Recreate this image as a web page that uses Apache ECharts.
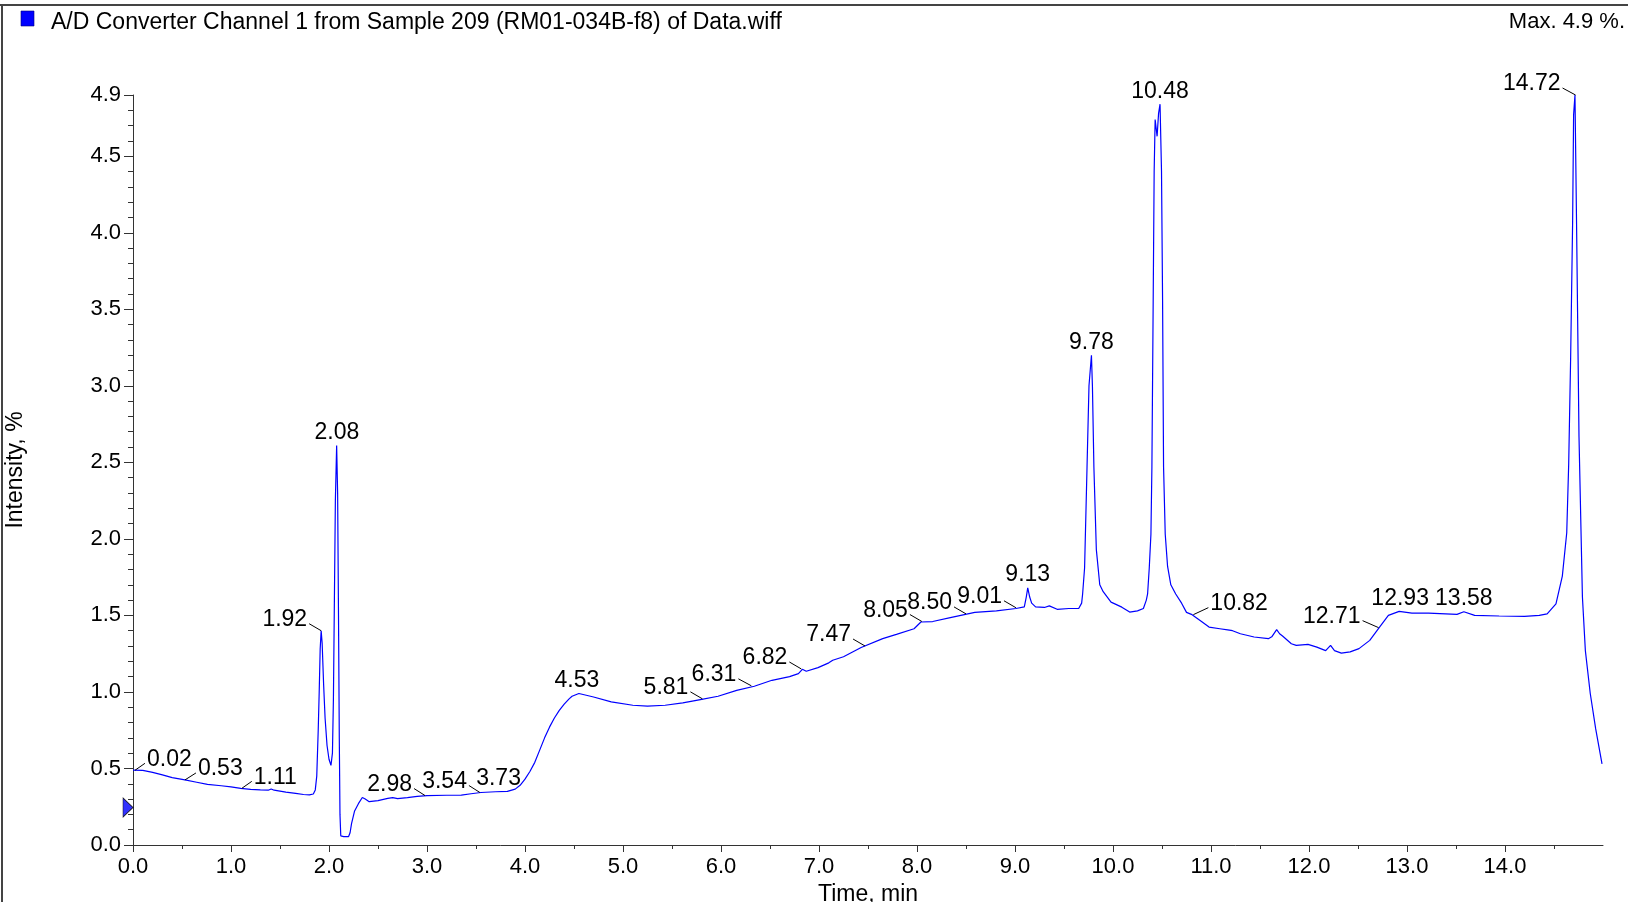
<!DOCTYPE html>
<html>
<head>
<meta charset="utf-8">
<script src="https://cdn.jsdelivr.net/npm/echarts@6/dist/echarts.min.js"></script>
<style>
html,body{margin:0;padding:0;background:#fff;}
#chart{width:1628px;height:902px;}
</style>
</head>
<body>
<div id="chart"></div>
<script>
// ---- data ----
const seriesName = 'A/D Converter Channel 1 from Sample 209 (RM01-034B-f8) of Data.wiff';
const maxText = 'Max. 4.9 %.';
const times = [
  0.00,0.10,0.20,0.30,0.40,0.53,0.65,0.76,0.90,1.00,1.10,1.20,1.30,1.38,1.41,1.44,1.56,1.66,1.74,1.80,
  1.84,1.86,1.875,1.89,1.90,1.91,1.92,1.93,1.945,1.96,1.98,2.00,2.02,2.035,2.045,2.055,2.065,2.078,2.088,2.097,
  2.105,2.112,2.12,2.15,2.20,2.215,2.23,2.26,2.30,2.34,2.37,2.41,2.50,2.60,2.65,2.70,2.80,2.90,3.00,3.20,
  3.35,3.45,3.55,3.70,3.82,3.90,3.95,4.00,4.05,4.10,4.15,4.20,4.25,4.30,4.35,4.40,4.45,4.48,4.55,4.70,4.88,5.10,5.25,5.43,5.61,5.79,
  5.97,6.16,6.34,6.52,6.70,6.79,6.83,6.87,6.99,7.10,7.14,7.25,7.43,7.65,7.79,7.97,8.04,8.16,8.34,8.59,
  8.81,9.01,9.095,9.115,9.13,9.15,9.17,9.21,9.30,9.35,9.43,9.55,9.65,9.68,9.69,9.71,9.735,9.755,9.78,9.79,
  9.805,9.83,9.865,9.90,9.98,10.09,10.17,10.25,10.31,10.34,10.353,10.37,10.387,10.397,10.41,10.42,10.43,10.45,10.465,10.48,
  10.495,10.506,10.516,10.533,10.557,10.59,10.64,10.70,10.75,10.80,10.91,10.98,11.09,11.17,11.19,11.22,11.30,11.44,11.585,11.62,
  11.67,11.70,11.73,11.82,11.87,11.99,12.08,12.17,12.22,12.26,12.33,12.42,12.51,12.62,12.72,12.81,12.92,13.05,13.22,13.51,
  13.58,13.69,13.94,14.20,14.35,14.43,14.52,14.585,14.63,14.65,14.67,14.69,14.70,14.714,14.73,14.755,14.79,14.82,14.87,14.925,
  14.99
];
const intensity = [
  0.489,0.487,0.475,0.458,0.440,0.425,0.410,0.396,0.387,0.380,0.370,0.363,0.360,0.358,0.366,0.358,0.345,0.337,0.330,0.328,
  0.333,0.36,0.45,0.75,1.00,1.28,1.40,1.32,1.05,0.83,0.65,0.56,0.52,0.60,0.95,1.60,2.25,2.61,2.30,1.50,
  0.70,0.20,0.06,0.055,0.055,0.08,0.14,0.22,0.27,0.31,0.30,0.283,0.29,0.305,0.31,0.303,0.31,0.318,0.323,0.325,
  0.326,0.335,0.343,0.348,0.350,0.365,0.39,0.43,0.48,0.54,0.62,0.70,0.77,0.83,0.88,0.92,0.955,0.972,0.99,0.967,0.935,0.913,0.907,0.913,0.928,0.95,
  0.972,1.01,1.037,1.076,1.10,1.12,1.148,1.135,1.159,1.19,1.207,1.23,1.29,1.348,1.376,1.413,1.457,1.46,1.485,1.52,
  1.53,1.545,1.556,1.62,1.68,1.62,1.58,1.556,1.552,1.562,1.54,1.545,1.545,1.58,1.64,1.81,2.47,3.00,3.20,3.00,
  2.47,1.93,1.70,1.655,1.587,1.554,1.522,1.530,1.545,1.60,1.64,1.81,2.03,2.47,3.55,4.40,4.74,4.63,4.78,4.84,
  4.40,3.55,2.47,2.03,1.82,1.70,1.64,1.58,1.52,1.507,1.457,1.424,1.413,1.405,1.413,1.400,1.38,1.359,1.348,1.36,
  1.407,1.38,1.365,1.315,1.304,1.311,1.293,1.27,1.304,1.27,1.254,1.262,1.283,1.337,1.424,1.50,1.526,1.515,1.515,1.507,
  1.524,1.50,1.496,1.494,1.50,1.51,1.576,1.757,2.04,2.49,3.19,4.07,4.77,4.90,4.07,2.67,1.62,1.27,0.99,0.76,
  0.53
];
const xTicks = [0,1,2,3,4,5,6,7,8,9,10,11,12,13,14];
const xMinorTicks = [0.5,1.5,2.5,3.5,4.5,5.5,6.5,7.5,8.5,9.5,10.5,11.5,12.5,13.5,14.5];
const yTicks = [0,0.5,1.0,1.5,2.0,2.5,3.0,3.5,4.0,4.5,4.9];
const yMinorTicks = [0.1,0.2,0.3,0.4,0.6,0.7,0.8,0.9,1.1,1.2,1.3,1.4,1.6,1.7,1.8,1.9,2.1,2.2,2.3,2.4,
  2.6,2.7,2.8,2.9,3.1,3.2,3.3,3.4,3.6,3.7,3.8,3.9,4.1,4.2,4.3,4.4,4.6,4.7,4.8];
const peakLabels = ['0.02','0.53','1.11','1.92','2.08','2.98','3.54','3.73','4.53','5.81','6.31','6.82',
  '7.47','8.05','8.50','9.01','9.13','9.78','10.48','10.82','12.71','12.93','13.58','14.72'];
const peakTimes = [0.02,0.53,1.11,1.92,2.08,2.98,3.54,3.73,4.53,5.81,6.31,6.82,
  7.47,8.05,8.50,9.01,9.13,9.78,10.48,10.82,12.71,12.93,13.58,14.72];
const peakValues = [0.488,0.425,0.37,1.40,2.61,0.323,0.343,0.348,0.99,0.955,1.04,1.15,
  1.30,1.46,1.51,1.55,1.68,3.20,4.84,1.505,1.42,1.526,1.524,4.90];
// label placement: r = right of point, l = left of point, c = centred above
const peakPlace = ['r','r','r','l','c','l','l','c','c','l','l','l','l','l','l','l','c','c','c','r','l','c','c','l'];
const peakLead = [10,11,10,12,0,11,11,0,0,12,13,12,12,12,12,12,0,0,0,15,16,0,0,13];
const markerValue = 0.245;

// ---- chart ----
const FONT = '"Liberation Sans", Arial, Helvetica, sans-serif';
const chart = echarts.init(document.getElementById('chart'), null, {renderer: 'canvas'});
const axisColor = '#333';
const option = {
  animation: false,
  backgroundColor: '#fff',
  title: [
    {text: seriesName, left: 51, top: 11, padding: 0,
     textStyle: {fontFamily: FONT, fontSize: 23, fontWeight: 'normal', color: '#000'}},
    {text: maxText, right: 3, top: 11, padding: 0,
     textStyle: {fontFamily: FONT, fontSize: 22, fontWeight: 'normal', color: '#000'}}
  ],
  graphic: [
    {type: 'line', shape: {x1: 0, y1: 5, x2: 1628, y2: 5}, style: {stroke: '#444', lineWidth: 2}},
    {type: 'line', shape: {x1: 2, y1: 5, x2: 2, y2: 902}, style: {stroke: '#444', lineWidth: 2}},
    {type: 'rect', shape: {x: 21, y: 11, width: 13, height: 15}, style: {fill: '#0000ff', stroke: '#00007a', lineWidth: 0.6}}
  ],
  grid: {left: 133, right: 25, top: 95, bottom: 57, containLabel: false, outerBoundsMode: 'none'},
  xAxis: [
    {type: 'value', min: 0, max: 15, position: 'bottom',
     name: 'Time, min', nameLocation: 'middle', nameGap: 35,
     nameTextStyle: {fontFamily: FONT, fontSize: 23, color: '#000'},
     axisLine: {show: true, lineStyle: {color: axisColor, width: 1}},
     axisTick: {show: true, length: 7, customValues: xTicks, lineStyle: {color: axisColor}},
     axisLabel: {show: true, customValues: xTicks, margin: 11, fontFamily: FONT, fontSize: 22, color: '#000',
       formatter: v => Number(v).toFixed(1)},
     splitLine: {show: false}},
    {type: 'value', min: 0, max: 15, position: 'bottom', gridIndex: 0,
     axisLine: {show: false},
     axisTick: {show: true, length: 4, customValues: xMinorTicks, lineStyle: {color: axisColor}},
     axisLabel: {show: false}, splitLine: {show: false}}
  ],
  yAxis: [
    {type: 'value', min: 0, max: 4.9, position: 'left',
     name: 'Intensity, %', nameLocation: 'middle', nameGap: 106, nameRotate: 90,
     nameTextStyle: {fontFamily: FONT, fontSize: 23, color: '#000'},
     axisLine: {show: true, lineStyle: {color: axisColor, width: 1}},
     axisTick: {show: true, length: 9, customValues: yTicks, lineStyle: {color: axisColor}},
     axisLabel: {show: true, customValues: yTicks, margin: 12, fontFamily: FONT, fontSize: 22, color: '#000',
       formatter: v => Number(v).toFixed(1)},
     splitLine: {show: false}},
    {type: 'value', min: 0, max: 4.9, position: 'left', gridIndex: 0,
     axisLine: {show: false},
     axisTick: {show: true, length: 5, customValues: yMinorTicks, lineStyle: {color: axisColor}},
     axisLabel: {show: false}, splitLine: {show: false}}
  ],
  series: [
    {name: seriesName, type: 'line', xAxisIndex: 0, yAxisIndex: 0,
     data: times.map((t, i) => [t, intensity[i]]),
     showSymbol: false, symbol: 'none', smooth: false,
     lineStyle: {color: '#0000ff', width: 1.2}, silent: true},
    {type: 'scatter', xAxisIndex: 0, yAxisIndex: 0, clip: false, silent: true,
     data: [[0, markerValue]], symbol: 'triangle', symbolSize: [19, 10], symbolRotate: -90, symbolOffset: [-5, 0],
     itemStyle: {color: '#0000ff', borderColor: '#000', borderWidth: 0.8}, z: 5},
    {type: 'custom', xAxisIndex: 0, yAxisIndex: 0, clip: false, silent: true, z: 6,
     data: peakTimes.map((t, i) => [t, peakValues[i], i]),
     renderItem: (params, api) => {
       const i = api.value(2);
       const p = api.coord([api.value(0), api.value(1)]);
       const place = peakPlace[i];
       const lead = peakLead[i];
       const children = [];
       if (place === 'c') {
         children.push({type: 'text', style: {text: peakLabels[i], x: p[0], y: p[1] - 13,
           align: 'center', verticalAlign: 'middle', fontFamily: FONT, fontSize: 23, fill: '#000'}});
       } else {
         const s = place === 'r' ? 1 : -1;
         children.push({type: 'line', shape: {x1: p[0], y1: p[1], x2: p[0] + s * lead, y2: p[1] - 7},
           style: {stroke: '#000', lineWidth: 1}});
         children.push({type: 'text', style: {text: peakLabels[i], x: p[0] + s * (lead + 2), y: p[1] - 11,
           align: s > 0 ? 'left' : 'right', verticalAlign: 'middle', fontFamily: FONT, fontSize: 23, fill: '#000'}});
       }
       return {type: 'group', children: children};
     }}
  ]
};
chart.setOption(option);
</script>
</body>
</html>
